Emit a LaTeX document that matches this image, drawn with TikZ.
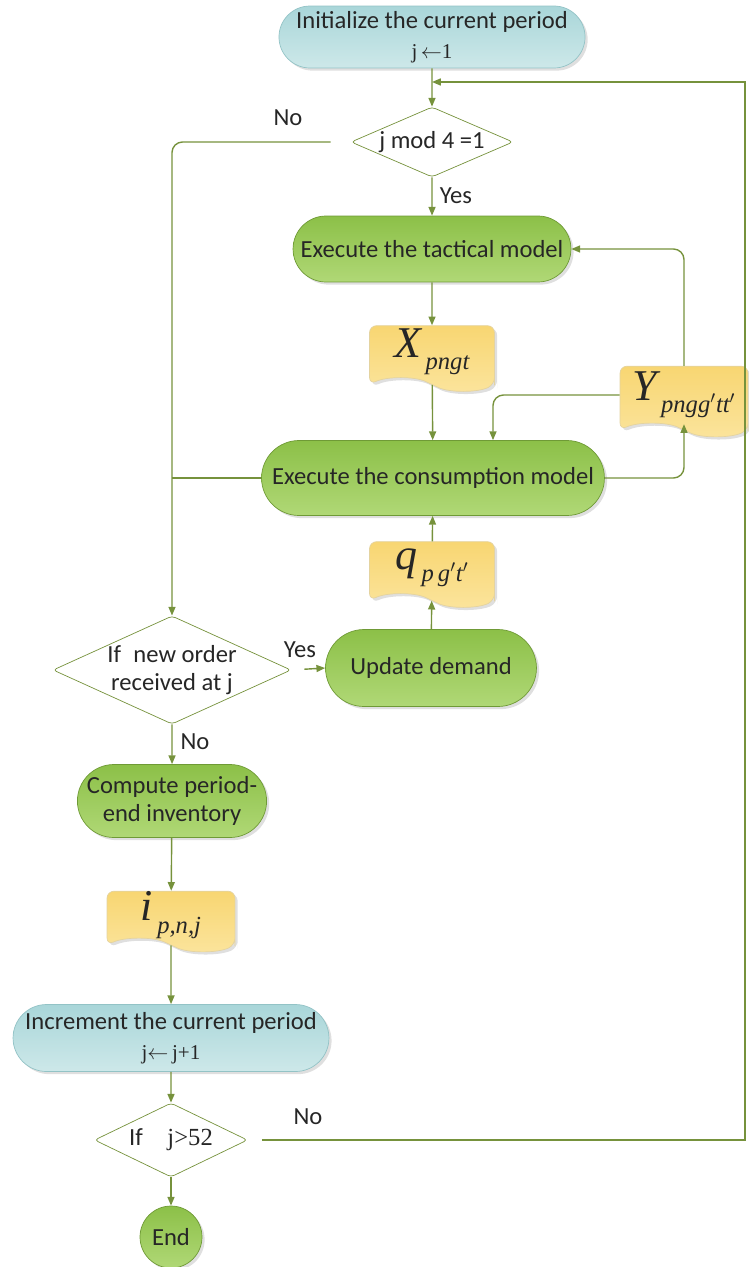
\documentclass[tikz,border=0pt]{standalone}
\usepackage{fontspec}
\setmainfont{Carlito}
\newfontfamily\tms{Liberation Serif}
\usepackage{xcolor}
\definecolor{Stem}{HTML}{76923C}
\definecolor{Ink}{HTML}{262626}
\definecolor{TealEdge}{HTML}{93C3C6}
\definecolor{TealTop}{HTML}{A9D6D9}
\definecolor{TealLow}{HTML}{CDE8E9}
\definecolor{LeafEdge}{HTML}{6F9A36}
\definecolor{LeafTop}{HTML}{8CC048}
\definecolor{LeafLow}{HTML}{B0D876}
\definecolor{Wheat}{HTML}{F8D672}
\definecolor{WheatLow}{HTML}{FBE49C}
\usepackage{tikz}
\usetikzlibrary{positioning,calc,arrows.meta,shapes.geometric,shapes.misc,shapes.symbols,shadows}
% big Times symbol with a lowered index
\newcommand{\qty}[2]{{\tms\itshape\fontsize{25}{25}\selectfont #1}\,\raisebox{-7pt}{\tms\itshape\fontsize{14}{14}\selectfont #2}}

\begin{document}
\begin{tikzpicture}[x=0.02cm,y=-0.02cm,
 font=\fontsize{14}{16}\selectfont,text=Ink,
 flow/.style={draw=Stem,line width=0.8pt,-{Triangle[length=5pt,width=4pt]}},
 plain/.style={draw=Stem,line width=0.8pt},
 softshadow/.style={drop shadow={opacity=0.25,fill=black!50,shadow xshift=1.5pt,shadow yshift=-1.5pt}},
 period/.style={rounded rectangle,draw=TealEdge,top color=TealTop,bottom color=TealLow,
  align=center,inner sep=2pt,softshadow},
 task/.style={rounded rectangle,draw=LeafEdge,top color=LeafTop,bottom color=LeafLow,
  align=center,inner sep=2pt,softshadow},
 query/.style={diamond,draw=Stem,fill=white,inner sep=0pt,align=center,rounded corners=2pt},
 record/.style={tape,tape bend top=none,tape bend bottom=out and in,tape bend height=7pt,
  draw=Wheat!85!black!60,top color=Wheat,bottom color=WheatLow,softshadow,rounded corners=4pt,
  minimum width=2.5cm,minimum height=1.3cm,inner sep=0pt},
 lbl/.style={inner sep=1pt}]
\useasboundingbox (0,0) rectangle (749,1267);
% main column
\node[period,minimum width=5.84cm,minimum height=1.24cm] (init) at (432,37)
 {Initialize the current period\\[1pt]{\fontsize{12}{13}\selectfont\tms j\,$\leftarrow$1}};
\node[query,minimum width=3.24cm,minimum height=1.4cm,aspect=2.3] (mod) at (432,142) {j mod 4 =1};
\node[task,minimum width=5.7cm,minimum height=1.32cm] (tact) at (432,249) {Execute the tactical model};
\node[record] (X) at (432,352) {\qty{X}{pngt}};
\node[task,minimum width=7cm,minimum height=1.5cm] (cons) at (433,478) {Execute the consumption model};
\node[record,minimum width=2.56cm,minimum height=1.4cm] (Y) at (684,395)
 {\qty{Y}{pngg$^{\prime}$tt$^{\prime}$}};
\node[record] (q) at (432,568) {\qty{q}{p\,g$^{\prime}$t$^{\prime}$}};
\node[task,minimum width=4.36cm,minimum height=1.54cm] (upd) at (431,668) {Update demand};
% left column
\node[query,minimum width=4.4cm,minimum height=2cm,aspect=2.2] (order) at (172,670)
 {If\; new order\\received at j};
\node[task,minimum width=3.7cm,minimum height=1.46cm,inner sep=0pt] (comp) at (172,801)
 {Compute period-\\end inventory};
\node[record,minimum width=2.56cm,minimum height=1.2cm] (inv) at (171,915) {\qty{i}{p,n,j}};
\node[period,minimum width=6.46cm,minimum height=1.34cm] (incr) at (171,1038)
 {Increment the current period\\[1pt]{\fontsize{12}{13}\selectfont\tms j$\leftarrow$\,j+1}};
\node[query,minimum width=3.06cm,minimum height=1.48cm,aspect=2.1] (stop) at (171,1140)
 {If\quad{\tms j>52}};
\node[task,circle,minimum size=1.24cm,inner sep=0pt] (fin) at (171,1237) {End};
% labels
\node[lbl] (noA) at (288,118) {No};
\node[lbl] (yesA) at (456,196) {Yes};
\node[lbl] (yesB) at (300,650) {Yes};
\node[lbl] (noB) at (195,742) {No};
\node[lbl] (noC) at (308,1117) {No};
% connectors
\coordinate (mrg) at (432,82);
\coordinate (rt) at (745,82);
\coordinate (rb) at (745,1140);
\draw[flow] (init) -- (mod);
\draw[flow] (mod) -- (tact);
\draw[flow,rounded corners=6pt,shorten <=0.4cm] (mod.west) -| (order.north);
\draw[flow] (tact) -- (X);
\draw[flow] (X) -- (cons);
\draw[flow,rounded corners=6pt] (Y.north) |- (tact.east);
\draw[flow,rounded corners=6pt] (Y.west) -| ([xshift=1.2cm]cons.north);
\draw[flow,rounded corners=6pt] (cons.east) -| (Y.south);
\draw[plain] (cons.west) -- (cons.west -| order.north);
\draw[flow] (upd) -- (q);
\draw[flow] (q) -- (cons);
\draw[flow,shorten <=0.26cm] (order.east) -- (upd.west);
\draw[flow] (order) -- (comp);
\draw[flow] (comp) -- (inv);
\draw[flow] (inv) -- (incr);
\draw[flow] (incr) -- (stop);
\draw[flow] (stop) -- (fin);
\draw[flow,shorten <=0.28cm] (stop.east) -- (rb) -- (rt) -- (mrg);
\end{tikzpicture}
\end{document}
